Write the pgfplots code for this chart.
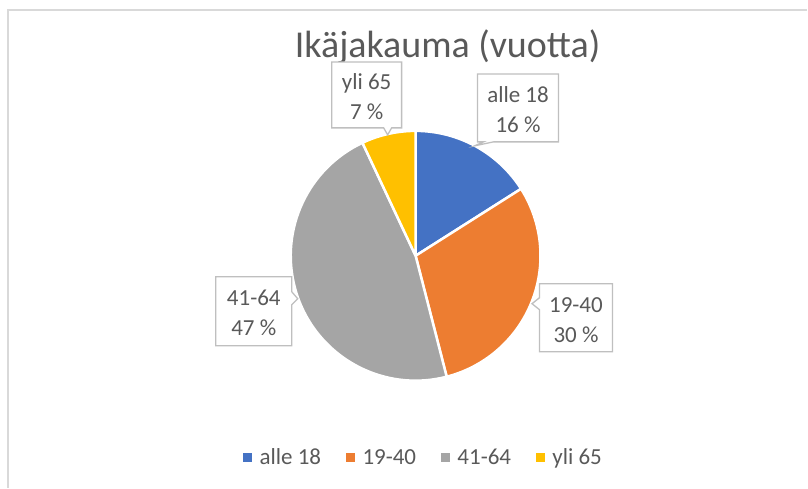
\documentclass[border=0pt]{standalone}
\usepackage{pgfplots}
\pgfplotsset{compat=1.18}
\usepackage{fontspec}
\setmainfont{Carlito}

\definecolor{c1}{HTML}{4472C4}
\definecolor{c2}{HTML}{ED7D31}
\definecolor{c3}{HTML}{A5A5A5}
\definecolor{c4}{HTML}{FFC000}
\definecolor{txt}{HTML}{595959}
\definecolor{framecol}{HTML}{D9D9D9}
\definecolor{callout}{HTML}{BFBFBF}

% shares (%): alle 18, 19-40, 41-64, yli 65
\def\va{16}
\def\vb{30}
\def\vc{47}
\def\vd{7}
% slice boundaries, clockwise from the top
\pgfmathsetmacro\aa{90-3.6*\va}
\pgfmathsetmacro\ab{\aa-3.6*\vb}
\pgfmathsetmacro\ac{\ab-3.6*\vc}
\pgfmathsetmacro\ad{\ac-3.6*\vd}
\def\R{125pt}

\newcommand\lblfont{\fontsize{23}{30}\selectfont}

\begin{document}
\begin{tikzpicture}
\begin{axis}[
    width=808pt, height=488pt, scale only axis,
    xmin=0, xmax=808, ymin=0, ymax=488, y dir=reverse,
    hide axis, clip=false,
    legend columns=4,
    legend style={
        at={(axis description cs:0.5235,0.0615)}, anchor=center,
        draw=none, fill=none, text=txt, font=\lblfont,
        inner sep=0pt, nodes={inner sep=0pt},
        /tikz/every odd column/.append style={column sep=8pt},
        /tikz/every even column/.append style={column sep=25pt}
    }
]
% keep the whole canvas in the bounding box
\path (axis cs:0,0) rectangle (axis cs:808,488);
% frame
\draw[framecol, line width=1.5pt] (axis cs:8,488) -- (axis cs:8,10) -- (axis cs:808,10);

% title
\node[text=txt, font=\fontsize{38}{45}\selectfont] at (axis cs:448,47) {Ikäjakauma (vuotta)};

% pie
\fill[c1, draw=white, line width=2.5pt, line join=round] (axis cs:416,256) -- ++(90:\R) arc[start angle=90, end angle=\aa, radius=\R] -- cycle;
\fill[c2, draw=white, line width=2.5pt, line join=round] (axis cs:416,256) -- ++(\aa:\R) arc[start angle=\aa, end angle=\ab, radius=\R] -- cycle;
\fill[c3, draw=white, line width=2.5pt, line join=round] (axis cs:416,256) -- ++(\ab:\R) arc[start angle=\ab, end angle=\ac, radius=\R] -- cycle;
\fill[c4, draw=white, line width=2.5pt, line join=round] (axis cs:416,256) -- ++(\ac:\R) arc[start angle=\ac, end angle=\ad, radius=\R] -- cycle;

% callouts
\draw[callout, line width=1.3pt, fill=white] (axis cs:478,74) -- (axis cs:559,74) -- (axis cs:559,142) -- (axis cs:494,142) -- (axis cs:475,146) -- (axis cs:484,142) -- (axis cs:478,142) -- cycle;
\node[text=txt, align=center, font=\lblfont] at (axis cs:518.5,110) {alle 18\\16 \%};

\draw[callout, line width=1.3pt, fill=white] (axis cs:540,284) -- (axis cs:613,284) -- (axis cs:613,352) -- (axis cs:540,352) -- (axis cs:540,310) -- (axis cs:532.5,304) -- (axis cs:540,298) -- cycle;
\node[text=txt, align=center, font=\lblfont] at (axis cs:576.5,320) {19-40\\30 \%};

\draw[callout, line width=1.3pt, fill=white] (axis cs:216,277) -- (axis cs:292,277) -- (axis cs:292,292) -- (axis cs:298,299) -- (axis cs:292,305) -- (axis cs:292,346) -- (axis cs:216,346) -- cycle;
\node[text=txt, align=center, font=\lblfont] at (axis cs:254,313) {41-64\\47 \%};

\draw[callout, line width=1.3pt, fill=white] (axis cs:332,62) -- (axis cs:402,62) -- (axis cs:402,128) -- (axis cs:392,128) -- (axis cs:388,135) -- (axis cs:384,128) -- (axis cs:332,128) -- cycle;
\node[text=txt, align=center, font=\lblfont] at (axis cs:367,97) {yli 65\\7 \%};

% legend
\addlegendimage{legend image code/.code={\fill[c1] (0pt,-4pt) rectangle (8pt,4pt);}}
\addlegendentry{alle 18}
\addlegendimage{legend image code/.code={\fill[c2] (0pt,-4pt) rectangle (8pt,4pt);}}
\addlegendentry{19-40}
\addlegendimage{legend image code/.code={\fill[c3] (0pt,-4pt) rectangle (8pt,4pt);}}
\addlegendentry{41-64}
\addlegendimage{legend image code/.code={\fill[c4] (0pt,-4pt) rectangle (8pt,4pt);}}
\addlegendentry{yli 65}
\end{axis}
\end{tikzpicture}
\end{document}
